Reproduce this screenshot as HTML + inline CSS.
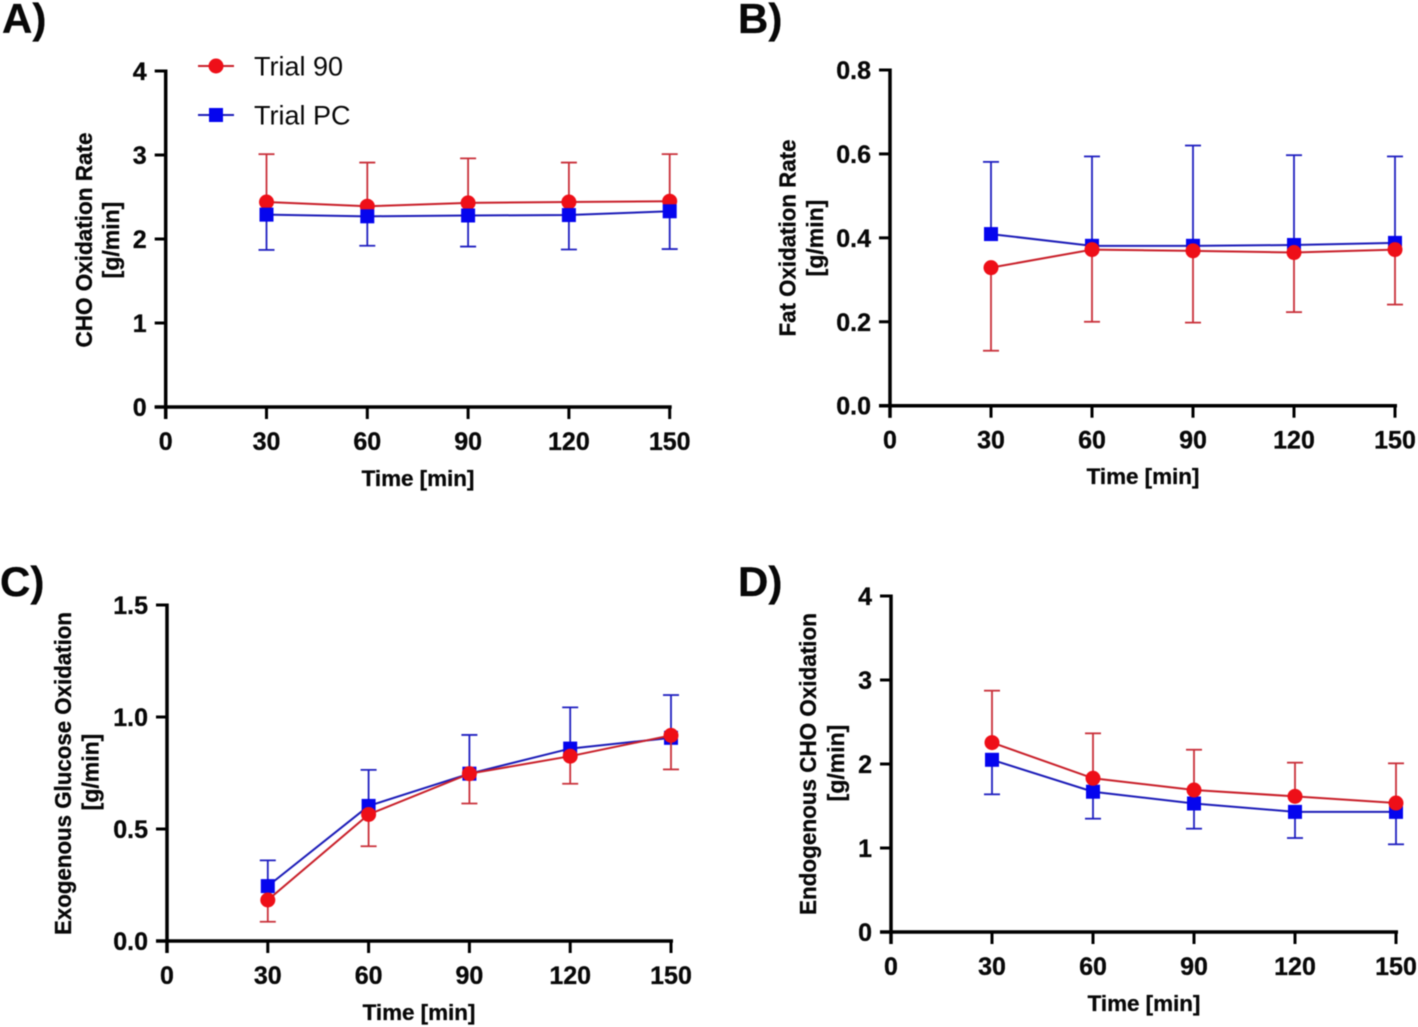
<!DOCTYPE html>
<html lang="en">
<head>
<meta charset="utf-8">
<title>Oxidation rates over time, Trial 90 and Trial PC</title>
<style>
html,body{margin:0;padding:0;background:#fff;}
body{width:1418px;height:1027px;overflow:hidden;}
svg{display:block;filter:blur(0.45px);}
text{font-family:"Liberation Sans",sans-serif;fill:#080808;}
text[font-weight="700"]{stroke:#080808;stroke-width:0.3px;}
</style>
</head>
<body>
<svg id="figure" xmlns="http://www.w3.org/2000/svg" width="1418" height="1027" viewBox="0 0 1418 1027">
  <rect x="0" y="0" width="1418" height="1027" fill="#fff"/>
  <text x="2" y="33" font-size="42" font-weight="700">A)</text>
  <text x="738" y="33" font-size="42" font-weight="700">B)</text>
  <text x="0" y="596" font-size="42" font-weight="700">C)</text>
  <text x="738" y="596" font-size="42" font-weight="700">D)</text>
  <g>
    <g>
      <line x1="198" x2="234" y1="66" y2="66" stroke="#c9202a" stroke-width="2"/>
      <circle cx="216" cy="66" r="7.5" fill="#ee0f18"/>
      <text x="254" y="75.500" font-size="27">Trial 90</text>
    </g>
    <g>
      <line x1="198" x2="234" y1="115" y2="115" stroke="#1c1cb8" stroke-width="2"/>
      <rect x="209" y="108" width="14" height="14" fill="#0505ee"/>
      <text x="254" y="124.500" font-size="27">Trial PC</text>
    </g>
  </g>
</svg>
<script>
// Shared axis data
const timeValues = [30, 60, 90, 120, 150];
const xTickValues = [0, 30, 60, 90, 120, 150];

// Panel A: CHO oxidation rate
const aYTicks = [0, 1, 2, 3, 4];
const aYTickLabels = ['0', '1', '2', '3', '4'];
const aRedMean = [2.44, 2.39, 2.43, 2.44, 2.45];
const aRedErrorEnd = [3.01, 2.91, 2.96, 2.91, 3.01];
const aBlueMean = [2.29, 2.27, 2.28, 2.285, 2.33];
const aBlueErrorEnd = [1.87, 1.92, 1.91, 1.875, 1.88];

// Panel B: fat oxidation rate
const bYTicks = [0, 0.2, 0.4, 0.6, 0.8];
const bYTickLabels = ['0.0', '0.2', '0.4', '0.6', '0.8'];
const bRedMean = [0.329, 0.372, 0.369, 0.365, 0.372];
const bRedErrorEnd = [0.131, 0.2, 0.198, 0.223, 0.241];
const bBlueMean = [0.409, 0.381, 0.381, 0.383, 0.388];
const bBlueErrorEnd = [0.581, 0.594, 0.62, 0.597, 0.594];

// Panel C: exogenous glucose oxidation
const cYTicks = [0, 0.5, 1, 1.5];
const cYTickLabels = ['0.0', '0.5', '1.0', '1.5'];
const cRedMean = [0.183, 0.565, 0.747, 0.825, 0.918];
const cRedErrorEnd = [0.086, 0.423, 0.614, 0.702, 0.766];
const cBlueMean = [0.245, 0.603, 0.747, 0.859, 0.907];
const cBlueErrorEnd = [0.36, 0.764, 0.92, 1.043, 1.098];

// Panel D: endogenous CHO oxidation
const dYTicks = [0, 1, 2, 3, 4];
const dYTickLabels = ['0', '1', '2', '3', '4'];
const dRedMean = [2.255, 1.83, 1.69, 1.615, 1.535];
const dRedErrorEnd = [2.873, 2.365, 2.17, 2.016, 2.008];
const dBlueMean = [2.05, 1.67, 1.53, 1.43, 1.43];
const dBlueErrorEnd = [1.639, 1.349, 1.23, 1.119, 1.044];

const panels = [
  {id:'a', x0:165.7, x1:669.7, y0:407, y1:71, yMax:4, ticks:aYTicks, labels:aYTickLabels,
   title:'CHO Oxidation Rate', titleX:92, titleY:240, titleLen:215, unitX:119, unitY:240,
   xTitleX:418, xTitleY:486, redMean:aRedMean, redEnd:aRedErrorEnd, blueMean:aBlueMean, blueEnd:aBlueErrorEnd, order:['red','blue']},
  {id:'b', x0:890, x1:1395, y0:405.700, y1:70, yMax:0.8, ticks:bYTicks, labels:bYTickLabels,
   title:'Fat Oxidation Rate', titleX:795.500, titleY:238, titleLen:197, unitX:823, unitY:238,
   xTitleX:1143, xTitleY:484, redMean:bRedMean, redEnd:bRedErrorEnd, blueMean:bBlueMean, blueEnd:bBlueErrorEnd, order:['blue','red']},
  {id:'c', x0:167, x1:671, y0:941, y1:605, yMax:1.5, ticks:cYTicks, labels:cYTickLabels,
   title:'Exogenous Glucose Oxidation', titleX:71, titleY:773.500, titleLen:323, unitX:98.500, unitY:772,
   xTitleX:419, xTitleY:1020, redMean:cRedMean, redEnd:cRedErrorEnd, blueMean:cBlueMean, blueEnd:cBlueErrorEnd, order:['blue','red']},
  {id:'d', x0:891, x1:1396, y0:932, y1:596, yMax:4, ticks:dYTicks, labels:dYTickLabels,
   title:'Endogenous CHO Oxidation', titleX:816, titleY:764, titleLen:302, unitX:844, unitY:763,
   xTitleX:1144, xTitleY:1011, redMean:dRedMean, redEnd:dRedErrorEnd, blueMean:dBlueMean, blueEnd:dBlueErrorEnd, order:['blue','red']}
];

const NS = 'http://www.w3.org/2000/svg';
const figure = document.getElementById('figure');
const styles = {
  red:{line:'#c9202a', err:'#c9303a', fill:'#ee0f18', label:'trial-90'},
  blue:{line:'#1c1cb8', err:'#2020c0', fill:'#0505ee', label:'trial-pc'}
};

function make(tag, parent, props) {
  const node = document.createElementNS(NS, tag);
  for (const key in props) node.setAttribute(key, props[key]);
  parent.appendChild(node);
  return node;
}

function drawPanel(p) {
  const xScale = v => p.x0 + (v / 150) * (p.x1 - p.x0);
  const yScale = v => p.y0 - (v / p.yMax) * (p.y0 - p.y1);
  let el;

  const g = make('g', figure, {});
  
  

  // Axes
  el = make('line', g, {x1:p.x0 - 11, x2:p.x1 + 2, y1:p.y0, y2:p.y0, stroke:'#000', 'stroke-width':3.500});
  
  
  el = make('line', g, {x1:p.x0, x2:p.x0, y1:p.y0 + 12, y2:p.y1 - 1.5, stroke:'#000', 'stroke-width':3.500});
  
  

  // X ticks
  xTickValues.forEach(v => {
    const tx = xScale(v);
    let t = make('line', g, {x1:tx, x2:tx, y1:p.y0, y2:p.y0 + 12, stroke:'#000', 'stroke-width':3});
    
    
    t = make('text', g, {x:tx, y:p.y0 + 43, 'font-size':25, 'font-weight':700, 'text-anchor':'middle'});
    
    
    t.textContent = String(v);
  });

  // Y ticks
  p.ticks.forEach((v, i) => {
    const ty = yScale(v);
    let t = make('line', g, {x1:p.x0 - 11, x2:p.x0, y1:ty, y2:ty, stroke:'#000', 'stroke-width':3});
    
    
    t = make('text', g, {x:p.x0 - 19, y:ty + 9, 'font-size':25, 'font-weight':700, 'text-anchor':'end'});
    
    
    t.textContent = p.labels[i];
  });

  // Axis titles
  el = make('text', g, {x:p.xTitleX, y:p.xTitleY, 'font-size':22.4, 'font-weight':700, 'text-anchor':'middle'});
  
  
  el.textContent = 'Time [min]';
  el = make('text', g, {transform:'translate(' + p.titleX + ' ' + p.titleY + ') rotate(-90)', 'font-size':23, 'font-weight':700, 'text-anchor':'middle', textLength:p.titleLen, lengthAdjust:'spacingAndGlyphs'});
  
  
  el.textContent = p.title;
  el = make('text', g, {transform:'translate(' + p.unitX + ' ' + p.unitY + ') rotate(-90)', 'font-size':23, 'font-weight':700, 'text-anchor':'middle'});
  
  
  el.textContent = '[g/min]';

  // Series
  p.order.forEach(key => {
    const st = styles[key];
    const means = key === 'red' ? p.redMean : p.blueMean;
    const ends = key === 'red' ? p.redEnd : p.blueEnd;
    const s = make('g', g, {});
    
    

    timeValues.forEach((t, i) => {
      const ex = xScale(t), ey = yScale(ends[i]), my = yScale(means[i]);
      let e = make('line', s, {x1:ex, x2:ex, y1:my, y2:ey, stroke:st.err, 'stroke-width':1.800});
      
      
      e = make('line', s, {x1:ex - 8, x2:ex + 8, y1:ey, y2:ey, stroke:st.err, 'stroke-width':1.800});
      
      
    });

    const pts = timeValues.map((t, i) => xScale(t) + ',' + yScale(means[i])).join(' ');
    const line = make('polyline', s, {points:pts, fill:'none', stroke:st.line, 'stroke-width':2});
    
    

    timeValues.forEach((t, i) => {
      const mx = xScale(t), my = yScale(means[i]);
      let m;
      if (key === 'red') {
        m = make('circle', s, {cx:mx, cy:my, r:7.5, fill:st.fill});
      } else {
        m = make('rect', s, {x:mx - 7, y:my - 7, width:14, height:14, fill:st.fill});
      }
      
      
    });
  });
}

panels.forEach(drawPanel);
</script>
</body>
</html>
